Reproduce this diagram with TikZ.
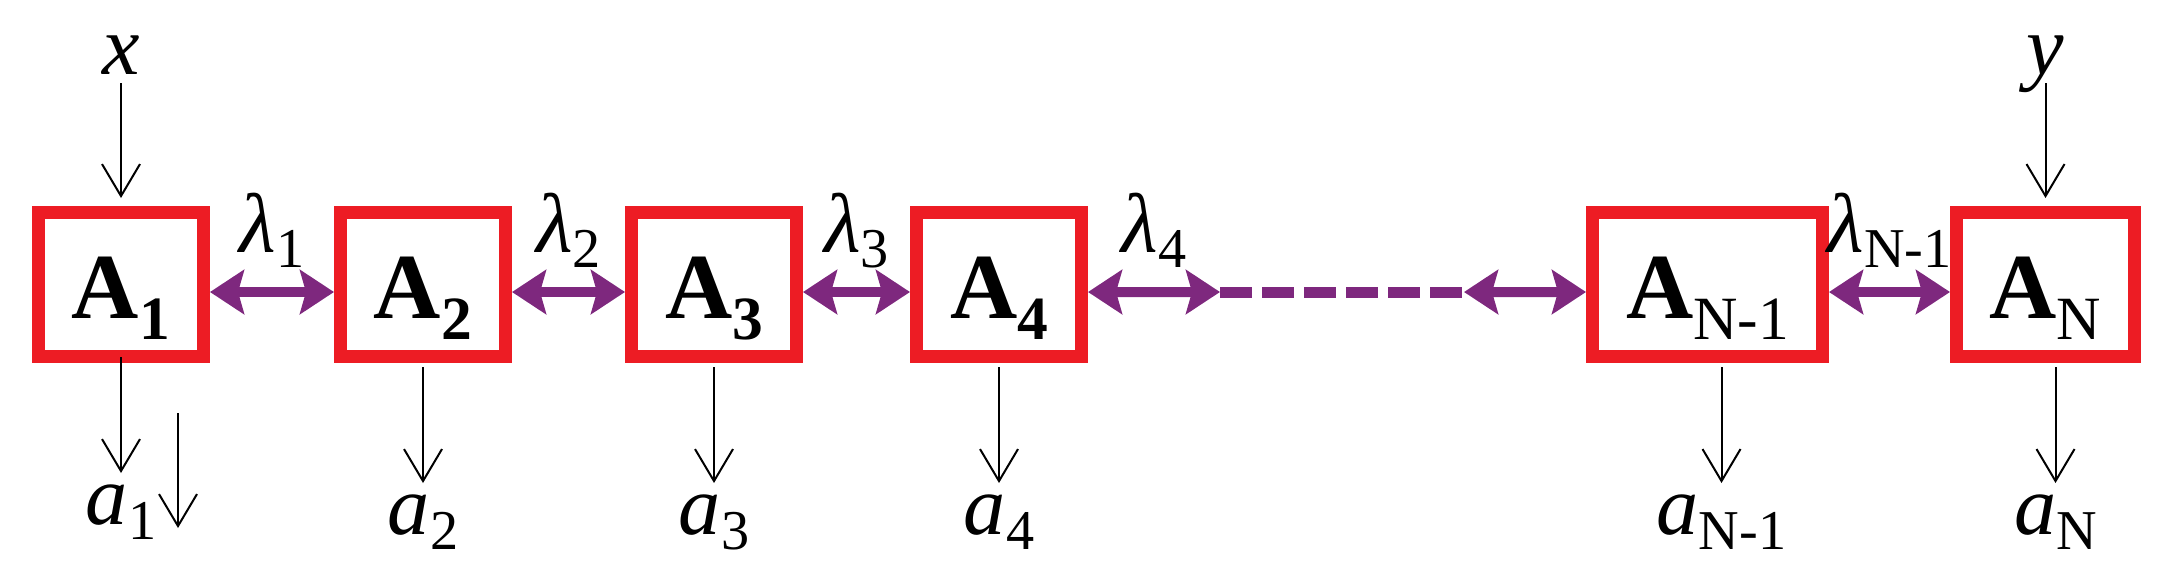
\documentclass[tikz,border=0pt]{standalone}
\usepackage{fontspec}
\setmainfont{Liberation Serif}
\usepackage{tikz}
\usetikzlibrary{arrows.meta,positioning}

\definecolor{boxred}{RGB}{237,28,36}
\definecolor{linkpurple}{RGB}{126,40,126}
\newcommand{\bsub}[1]{\raisebox{-2.1mm}{\fontsize{17.5}{18}\selectfont #1}}
\newcommand{\lsub}[1]{\raisebox{-1.55mm}{\fontsize{16}{17}\selectfont\upshape #1}}

\begin{document}
\begin{tikzpicture}[
  block/.style={draw=boxred, line width=1.3mm, minimum width=1.65cm, minimum height=1.44cm, inner sep=0pt, text height=6.7mm, text depth=0pt, font=\fontsize{26.5}{30}\selectfont\bfseries},
  lbl/.style={font=\fontsize{24}{28}\selectfont\itshape, inner sep=0.8mm, text depth=0pt},
  io/.style={-{Straight Barb[length=3.2mm,width=3.8mm]}, line width=0.2mm},
  link/.style={<->, >={Stealth[length=3.4mm,width=4.4mm,inset=0.6mm]}, line width=1mm, draw=linkpurple},
  gap/.style={draw=linkpurple, line width=1.1mm, dash pattern=on 3.2mm off 1mm}
]
  \useasboundingbox (0,0) rectangle (21.74,5.76);

  % the chain of blocks
  \node[block] (A1) at (1.21,2.915) {A\bsub{1}};
  \node[block] (A2) at (4.23,2.915) {A\bsub{2}};
  \node[block] (A3) at (7.14,2.915) {A\bsub{3}};
  \node[block] (A4) at (9.99,2.915) {A\bsub{4}};
  \node[block, minimum width=2.30cm] (AN1) at (17.075,2.915) {A\bsub{\mdseries N-1}};
  \node[block, minimum width=1.78cm] (AN) at (20.455,2.915) {A\bsub{\mdseries N}};

  % inputs at both ends
  \node[lbl, above=1.23cm of A1] (x) {x};
  \node[lbl, above=1.23cm of AN] (y) {y};
  \draw[io, shorten >=0.8mm] (x) -- (A1);
  \draw[io, shorten >=0.8mm] (y) -- (AN);

  % outputs
  \node[lbl, below=1.13cm of A1] (a1) {a\lsub{1}};
  \node[lbl, below=1.23cm of A2] (a2) {a\lsub{2}};
  \node[lbl, below=1.23cm of A3] (a3) {a\lsub{3}};
  \node[lbl, below=1.23cm of A4] (a4) {a\lsub{4}};
  \node[lbl, below=1.23cm of AN1, xshift=1.4mm] (aN1) {a\lsub{N-1}};
  \node[lbl, below=1.23cm of AN, xshift=1mm] (aN) {a\lsub{N}};
  \draw[io, shorten <=-0.6mm, shorten >=0.3mm] (a1.north |- A1.south) -- (a1.north);
  \draw[io, shorten <=0.4mm, shorten >=0.3mm] (a2.north |- A2.south) -- (a2.north);
  \draw[io, shorten <=0.4mm, shorten >=0.3mm] (a3.north |- A3.south) -- (a3.north);
  \draw[io, shorten <=0.4mm, shorten >=0.3mm] (a4.north |- A4.south) -- (a4.north);
  \draw[io, shorten <=0.4mm, shorten >=0.3mm] (aN1.north |- AN1.south) -- (aN1.north);
  \draw[io, shorten <=0.4mm, shorten >=0.3mm] (aN.north |- AN.south) -- (aN.north);

  % lone arrow beside a1
  \coordinate (s1) at (1.78,1.63);
  \coordinate (s2) at (1.78,0.48);
  \draw[io] (s1) -- (s2);

  % links between neighbours
  \draw[link] ([yshift=-0.75mm]A1.east) -- ([yshift=-0.75mm]A2.west) node[lbl, midway, above=2.7mm] {λ\lsub{1}};
  \draw[link] ([yshift=-0.75mm]A2.east) -- ([yshift=-0.75mm]A3.west) node[lbl, midway, above=2.7mm] {λ\lsub{2}};
  \draw[link] ([yshift=-0.75mm]A3.east) -- ([yshift=-0.75mm]A4.west) node[lbl, midway, above=2.7mm] {λ\lsub{3}};

  % the elided part of the chain
  \coordinate (d1) at (12.20,2.84);
  \coordinate (d2) at (14.64,2.84);
  \draw[link] ([yshift=-0.75mm]A4.east) -- (d1) node[lbl, midway, above=2.7mm] {λ\lsub{4}};
  \draw[gap] (d1) -- (d2);
  \draw[link] (d2) -- ([yshift=-0.75mm]AN1.west);
  \draw[link] ([yshift=-0.75mm]AN1.east) -- ([yshift=-0.75mm]AN.west) node[lbl, midway, above=2.7mm] {λ\lsub{N-1}};
\end{tikzpicture}
\end{document}
